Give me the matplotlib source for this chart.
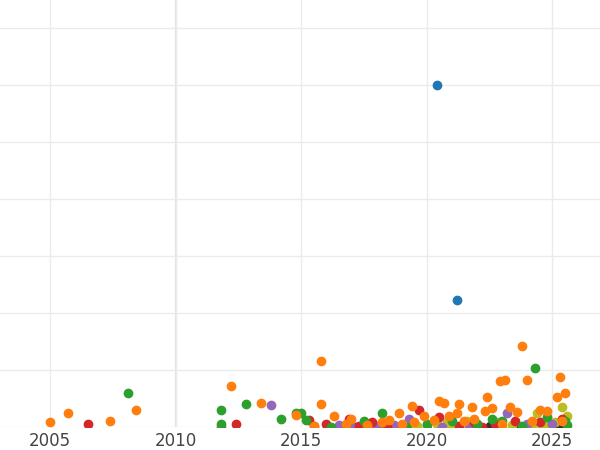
import matplotlib
matplotlib.use('Agg')
import matplotlib.pyplot as plt

# (year, value) pairs, grouped by colour
blue = [(2020.4, 6.0), (2021.2, 2.23)]
orange = [(2005.0, 0.08), (2005.7, 0.24), (2007.4, 0.1), (2008.4, 0.3), (2012.2, 0.72),
          (2013.4, 0.43), (2014.8, 0.22), (2015.8, 0.4), (2015.8, 1.16), (2016.3, 0.2),
          (2017.0, 0.15), (2018.5, 0.12), (2018.9, 0.25), (2019.4, 0.37), (2019.9, 0.2),
          (2020.5, 0.45), (2020.7, 0.43), (2021.2, 0.25), (2021.3, 0.4), (2021.8, 0.35),
          (2022.3, 0.28), (2022.4, 0.53), (2022.6, 0.33), (2022.9, 0.8), (2023.1, 0.82),
          (2023.3, 0.35), (2023.6, 0.27), (2023.8, 1.42), (2024.0, 0.83), (2024.5, 0.3),
          (2024.8, 0.28), (2025.2, 0.53), (2025.3, 0.88), (2025.5, 0.6), (2025.4, 0.1),
          (2021.5, 0.1), (2016.8, 0.05), (2019.0, 0.05), (2020.3, 0.12),
          (2015.5, 0.02), (2017.6, 0.03), (2019.5, 0.08), (2021.9, 0.15), (2023.0, 0.05),
          (2024.2, 0.1), (2020.9, 0.2), (2018.2, 0.08)]
green = [(2008.1, 0.6), (2011.8, 0.3), (2011.8, 0.06), (2012.8, 0.4), (2014.2, 0.15),
         (2014.8, 0.25), (2015.0, 0.25), (2015.2, 0.12), (2017.5, 0.1), (2018.2, 0.25),
         (2020.0, 0.05), (2021.0, 0.1), (2022.0, 0.05), (2023.0, 0.1), (2024.3, 1.03),
         (2024.8, 0.18), (2025.5, 0.1), (2025.6, 0.03), (2016.2, 0.0), (2019.2, 0.0),
         (2022.6, 0.15), (2023.8, 0.02)]
red = [(2006.5, 0.05), (2012.4, 0.05), (2015.3, 0.12), (2016.0, 0.05), (2016.9, 0.15),
       (2017.8, 0.08), (2019.7, 0.3), (2020.5, 0.18), (2021.9, 0.08), (2022.7, 0.05),
       (2023.5, 0.1), (2024.5, 0.08), (2025.4, 0.15), (2017.3, 0.02), (2018.4, 0.0),
       (2021.3, 0.02), (2022.2, 0.0)]
purple = [(2011.8, 0.0), (2013.8, 0.38), (2015.5, 0.02), (2016.5, 0.03), (2017.0, 0.02),
          (2018.0, 0.02), (2018.7, 0.03), (2019.3, 0.15), (2020.0, 0.03), (2022.0, 0.05),
          (2023.2, 0.25), (2024.0, 0.05), (2025.0, 0.05), (2016.7, 0.0), (2017.4, 0.0),
          (2020.6, 0.0), (2021.7, 0.0)]
olive = [(2019.6, 0.02), (2020.4, 0.05), (2020.8, 0.08), (2021.2, 0.02), (2021.6, 0.1),
         (2022.0, 0.03), (2022.8, 0.08), (2023.4, 0.04), (2024.2, 0.02), (2024.4, 0.25),
         (2024.8, 0.05), (2025.1, 0.08), (2025.4, 0.35), (2025.6, 0.2), (2023.0, 0.0),
         (2024.6, 0.0), (2021.0, 0.0)]
dark = [(2018.0, 0.0), (2019.0, 0.02), (2022.5, 0.02), (2024.0, 0.02), (2025.5, 0.05),
        (2017.2, 0.0), (2023.7, 0.0), (2025.2, 0.0)]

x_ticks = [2005, 2010, 2015, 2020, 2025]

fig = plt.figure(figsize=(6, 4.5), dpi=100)
ax = fig.add_axes([0, 0.051, 1, 0.949])

for pts, col in [(dark, '#333333'), (olive, '#bcbd22'), (purple, '#9467bd'), (red, '#d62728'),
                 (green, '#2ca02c'), (orange, '#ff7f0e'), (blue, '#1f77b4')]:
    xs = [p[0] for p in pts]
    ys = [p[1] for p in pts]
    ax.scatter(xs, ys, s=36, color=col, zorder=3, clip_on=True)

ax.set_xlim(2003.0, 2026.9)
ax.set_ylim(0, 7.5)
ax.set_yticks(range(0, 8))
ax.set_xticks(x_ticks)
ax.set_xticklabels([str(t) for t in x_ticks], fontsize=12, color='#444444')
ax.tick_params(axis='both', length=0)
ax.tick_params(axis='y', labelleft=False)
ax.grid(True, color='#ebebeb', linewidth=1)
ax.axvline(2010, color='#e3e3e3', linewidth=1.6, zorder=1)
for s in ax.spines.values():
    s.set_visible(False)

fig.savefig('out.png', dpi=100)
